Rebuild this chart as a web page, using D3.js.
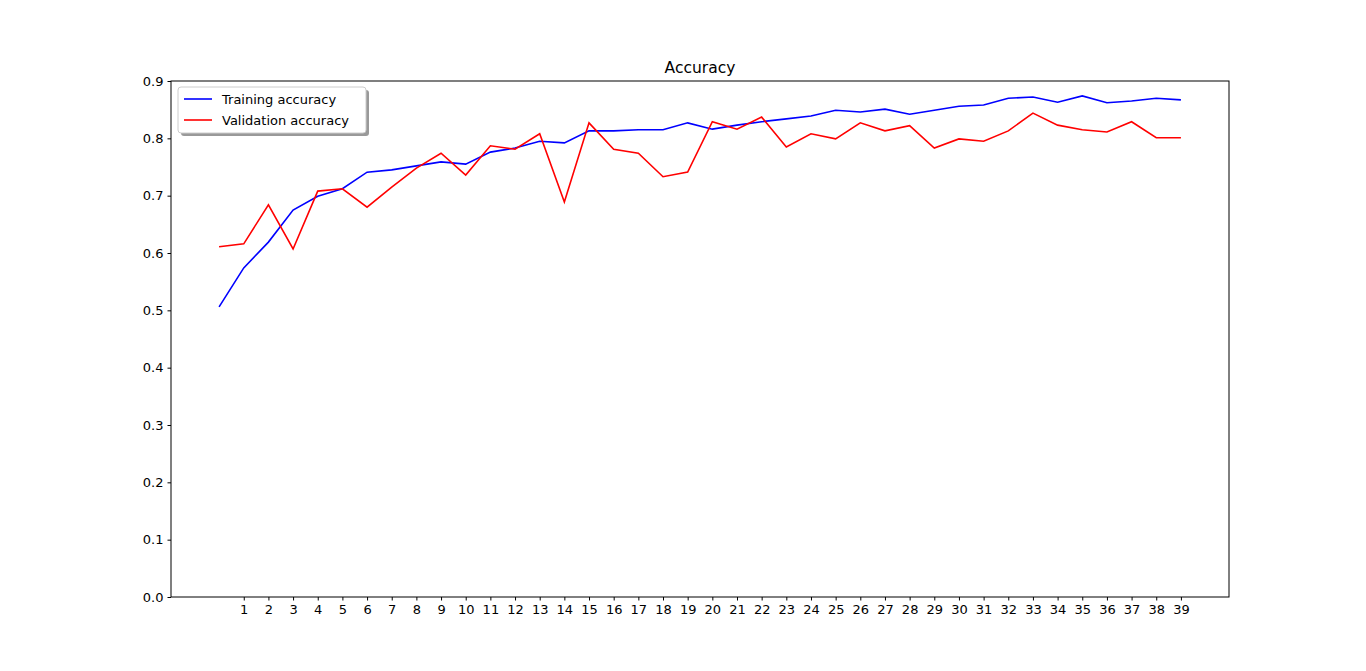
<!DOCTYPE html>
<html><head><meta charset="utf-8">
<script src="https://cdn.jsdelivr.net/npm/d3@7"></script>
<style>body{margin:0;background:#fff}text{font-family:"DejaVu Sans",sans-serif}</style>
</head><body><svg id="c" width="1366" height="671"></svg>
<script>
const training = [0.506,0.574,0.619,0.675,0.699,0.712,0.741,0.745,0.752,0.759,0.755,0.776,0.783,0.795,0.792,0.813,0.813,0.815,0.815,0.827,0.816,0.823,0.829,0.834,0.839,0.849,0.846,0.851,0.842,0.849,0.856,0.858,0.870,0.872,0.863,0.874,0.862,0.865,0.870,0.867];
const validation = [0.611,0.616,0.684,0.607,0.708,0.712,0.680,0.715,0.748,0.774,0.736,0.787,0.781,0.808,0.689,0.827,0.781,0.774,0.733,0.741,0.829,0.816,0.837,0.785,0.808,0.799,0.827,0.813,0.822,0.783,0.799,0.795,0.813,0.844,0.823,0.815,0.811,0.829,0.801,0.801];
const xTicks = d3.range(1, 40);
const yTicks = d3.range(0, 10).map(d => d / 10);

const svg = d3.select('#c');
const L = 171, R = 1229, T = 81, B = 597;
const x = d3.scaleLinear().domain([-1.95, 40.95]).range([L, R]);
const y = d3.scaleLinear().domain([0, 0.9]).range([B, T]);

// axes
svg.append('g').attr('transform', `translate(0,${B})`)
    .call(d3.axisBottom(x).tickValues(xTicks).tickFormat(d3.format('d')).tickSize(3.5).tickPadding(4))
    .call(g => g.select('.domain').remove())
    .selectAll('text').attr('font-size', 13).attr('fill', '#000');
svg.append('g').attr('transform', `translate(${L},0)`)
    .call(d3.axisLeft(y).tickValues(yTicks).tickFormat(d3.format('.1f')).tickSize(3.5).tickPadding(4))
    .call(g => g.select('.domain').remove())
    .selectAll('text').attr('font-size', 13).attr('fill', '#000');

const line = d3.line().x((d, i) => x(i)).y(d => y(d));
svg.append('path').datum(training).attr('d', line).attr('fill', 'none').attr('stroke', '#0000ff').attr('stroke-width', 1.6);
svg.append('path').datum(validation).attr('d', line).attr('fill', 'none').attr('stroke', '#ff0000').attr('stroke-width', 1.6);

svg.append('rect').attr('x', L).attr('y', T).attr('width', R - L).attr('height', B - T)
    .attr('fill', 'none').attr('stroke', '#000').attr('stroke-width', 1);

svg.append('text').attr('x', (L + R) / 2).attr('y', T - 8).attr('text-anchor', 'middle')
    .attr('font-size', 15.5).text('Accuracy');

// legend
const lg = svg.append('g').attr('transform', 'translate(178,87)');
lg.append('rect').attr('x', 3).attr('y', 3).attr('width', 188).attr('height', 46).attr('rx', 3).attr('fill', '#999');
lg.append('rect').attr('width', 188).attr('height', 46).attr('rx', 3).attr('fill', '#fff').attr('stroke', '#ccc');
[['Training accuracy', '#0000ff'], ['Validation accuracy', '#ff0000']].forEach((s, i) => {
    const yy = 12 + i * 21;
    lg.append('line').attr('x1', 6).attr('x2', 34).attr('y1', yy).attr('y2', yy).attr('stroke', s[1]).attr('stroke-width', 1.6);
    lg.append('text').attr('x', 44).attr('y', yy + 5).attr('font-size', 13).text(s[0]);
});
</script></body></html>
